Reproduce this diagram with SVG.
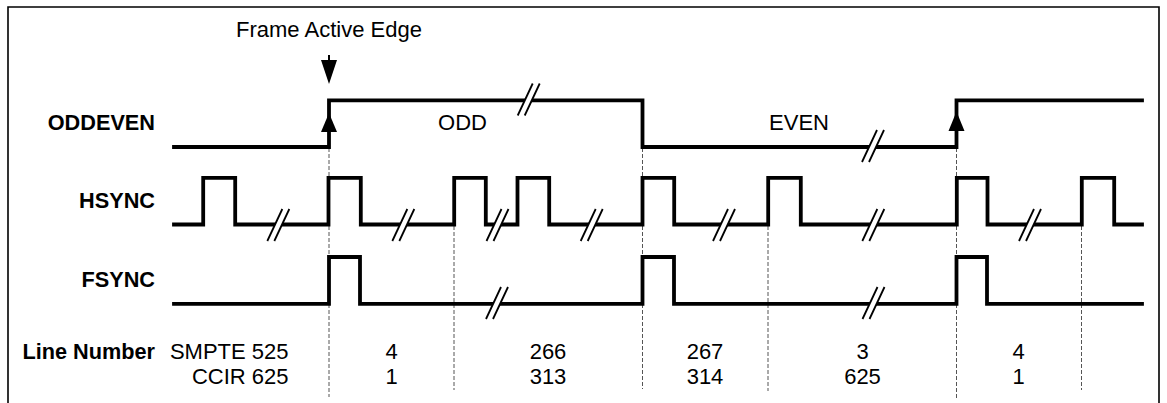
<svg xmlns="http://www.w3.org/2000/svg" width="1167" height="403" viewBox="0 0 1167 403">
<style>
.sig{fill:none;stroke:#000;stroke-width:3.8;stroke-linejoin:miter;stroke-linecap:square}
.dash{fill:none;stroke:#555;stroke-width:1;stroke-dasharray:4 2}
.lbl{font-family:"Liberation Sans",Arial,sans-serif;font-size:21.7px;font-weight:bold;fill:#000;text-anchor:end}
.txt{font-family:"Liberation Sans",Arial,sans-serif;font-size:22px;fill:#000}
.mid{text-anchor:middle}
.brk-bg{fill:#fff;stroke:none}
.brk{stroke:#000;stroke-width:1.8;fill:none}
</style>
<defs>
<g id="brk">
<polygon class="brk-bg" points="-11,16 4,-16 11,-16 -4,16"/>
<line class="brk" x1="-11" y1="16" x2="4" y2="-16"/>
<line class="brk" x1="-4" y1="16" x2="11" y2="-16"/>
</g>
</defs>
<rect width="1167" height="403" fill="#fff"/>
<path d="M8,403 V7 H1159 V403" fill="none" stroke="#000" stroke-width="1.6"/>

<g id="connectors">
<line class="dash" x1="329" y1="148" x2="329" y2="397"/>
<line class="dash" x1="642.5" y1="148" x2="642.5" y2="389"/>
<line class="dash" x1="956.5" y1="148" x2="956.5" y2="398"/>
<line class="dash" x1="454" y1="226" x2="454" y2="390"/>
<line class="dash" x1="768" y1="226" x2="768" y2="391"/>
<line class="dash" x1="1081.5" y1="226" x2="1081.5" y2="390"/>
</g>

<g id="frame-active-edge">
<text class="txt" x="236" y="37">Frame Active Edge</text>
<line x1="329" y1="55" x2="329" y2="62" stroke="#000" stroke-width="2"/>
<polygon points="321,60 337,60 329,84" fill="#000"/>
</g>

<g id="oddeven">
<text class="lbl" x="155" y="130">ODDEVEN</text>
<path class="sig" d="M174,147 H329 V100.3 H642.5 V147 H956.5 V100.3 H1142"/>
<polygon points="321,132 337,132 329,113" fill="#000"/>
<polygon points="948.5,131 964.5,131 956.5,111.5" fill="#000"/>
<use href="#brk" x="528.7" y="99.5"/>
<use href="#brk" x="873" y="146"/>
<text class="txt mid" x="462.5" y="130">ODD</text>
<text class="txt mid" x="799" y="130">EVEN</text>
</g>

<g id="hsync">
<text class="lbl" x="155" y="208">HSYNC</text>
<path class="sig" d="M174,224.5 H203.2 V177.8 H235.2 V224.5 H328.5 V177.8 H360.8 V224.5 H454.2 V177.8 H485.8 V224.5 H517.5 V177.8 H549.2 V224.5 H642.5 V177.8 H674.2 V224.5 H768.2 V177.8 H800.8 V224.5 H956.8 V177.8 H987.5 V224.5 H1081.8 V177.8 H1114.2 V224.5 H1142"/>
<use href="#brk" x="278.3" y="225"/>
<use href="#brk" x="403.3" y="225"/>
<use href="#brk" x="497.5" y="225"/>
<use href="#brk" x="591.7" y="225"/>
<use href="#brk" x="724" y="225"/>
<use href="#brk" x="873.3" y="225"/>
<use href="#brk" x="1030" y="225"/>
</g>

<g id="fsync">
<text class="lbl" x="155" y="287">FSYNC</text>
<path class="sig" d="M174,303.8 H329 V257 H360 V303.8 H642.5 V257 H674 V303.8 H956.5 V257 H987 V303.8 H1142"/>
<use href="#brk" x="497" y="303"/>
<use href="#brk" x="873.5" y="303"/>
</g>

<g id="line-number">
<text class="lbl" x="155" y="359">Line Number</text>
<text class="txt" x="288.5" y="359" text-anchor="end">SMPTE 525</text>
<text class="txt" x="288.5" y="384" text-anchor="end">CCIR 625</text>
<text class="txt mid" x="391.5" y="359">4</text>
<text class="txt mid" x="548" y="359">266</text>
<text class="txt mid" x="705" y="359">267</text>
<text class="txt mid" x="862.5" y="359">3</text>
<text class="txt mid" x="1018.5" y="359">4</text>
<text class="txt mid" x="391.5" y="384">1</text>
<text class="txt mid" x="548" y="384">313</text>
<text class="txt mid" x="705" y="384">314</text>
<text class="txt mid" x="862.5" y="384">625</text>
<text class="txt mid" x="1018.5" y="384">1</text>
</g>
</svg>
